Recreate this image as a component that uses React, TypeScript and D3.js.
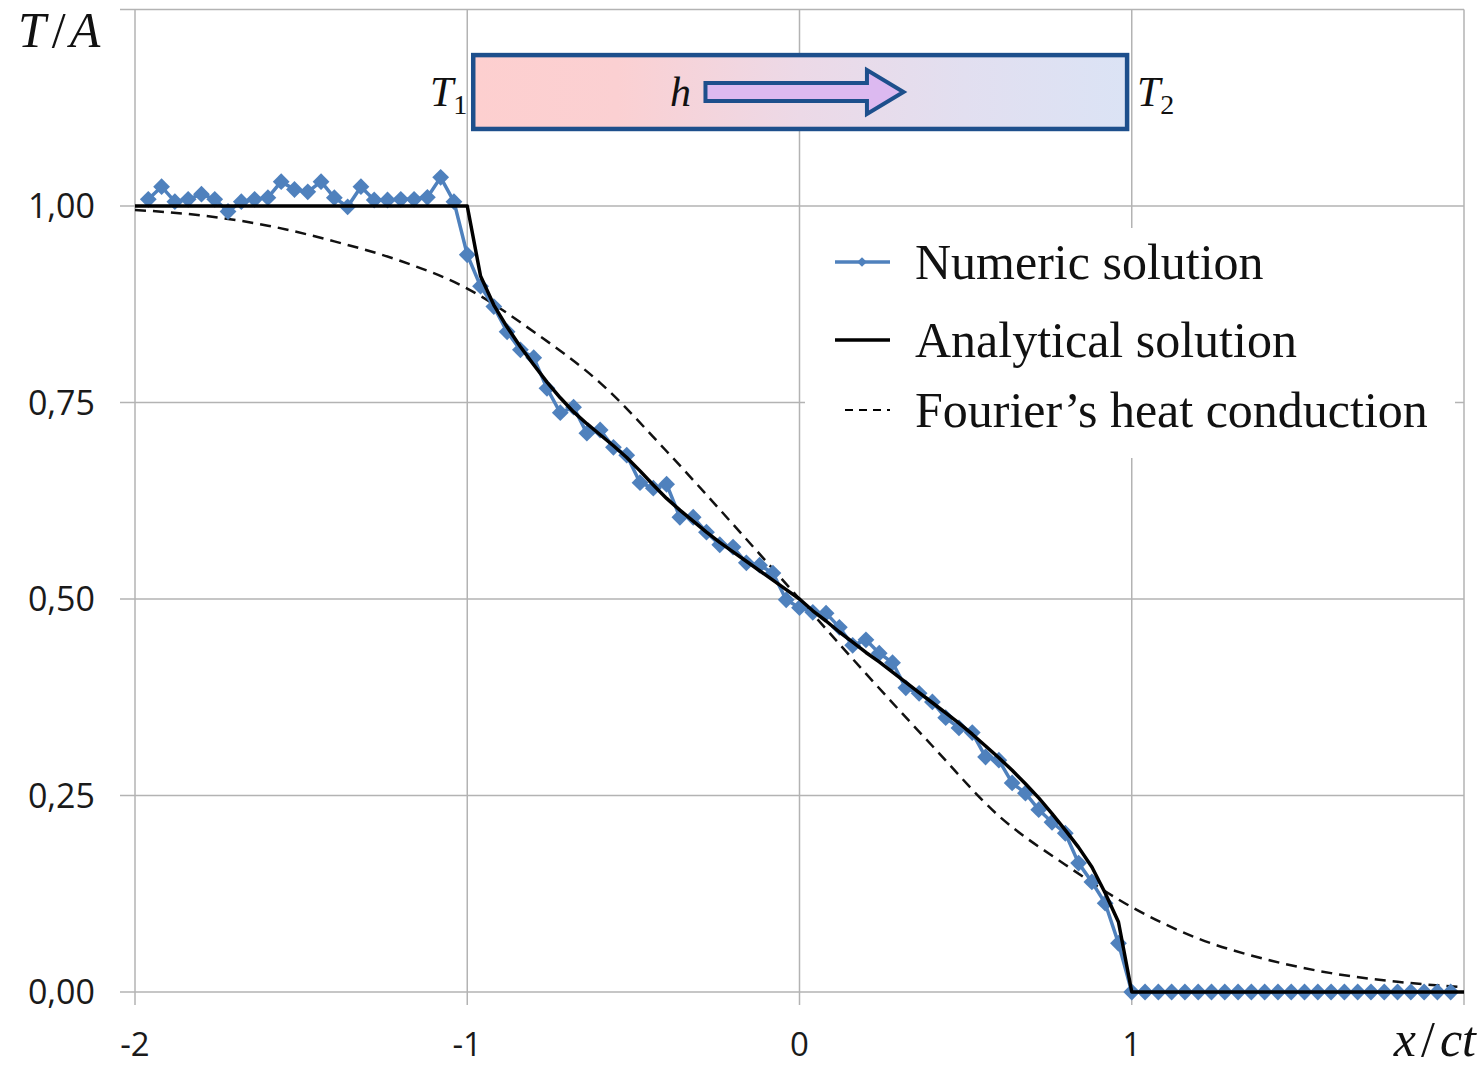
import * as d3 from 'd3';
import { useEffect, useRef } from 'react';

const W = 1484;
const H = 1066;
const plot = { left: 135, right: 1464, top: 9.5, bottom: 992 };

const xTicks = [-2, -1, 0, 1, 2];
const xTickLabels = ['-2', '-1', '0', '1', ''];
const yTicks = [0, 0.25, 0.5, 0.75, 1, 1.25];
const yTickLabels = ['0,00', '0,25', '0,50', '0,75', '1,00', ''];

// numeric solution: sampled every 0.04 from -1.96
const numericStart = -1.96;
const numericStep = 0.04;
const numericValues = [
    1.0085, 1.0246, 1.0055, 1.0085, 1.015, 1.0085, 0.993, 1.0055, 1.0085, 1.0106,
    1.031, 1.021, 1.018, 1.031, 1.0106, 0.999, 1.0246, 1.0076, 1.0076, 1.0085,
    1.0085, 1.011, 1.0365, 1.0055,
    0.938, 0.898, 0.872, 0.84, 0.817, 0.807, 0.768, 0.737, 0.744, 0.711,
    0.715, 0.693, 0.683, 0.648, 0.641, 0.646, 0.604, 0.604, 0.585, 0.569,
    0.566, 0.546, 0.543, 0.533, 0.499, 0.489, 0.483,
    0.482, 0.464, 0.441, 0.448, 0.431, 0.419, 0.387, 0.38, 0.369, 0.349,
    0.336, 0.33, 0.299, 0.295, 0.266, 0.253, 0.232, 0.216, 0.202, 0.164,
    0.14, 0.113, 0.062, 0.0,
    0, 0, 0, 0, 0, 0, 0, 0, 0, 0, 0, 0, 0, 0, 0, 0, 0, 0, 0, 0, 0, 0, 0, 0,
];

const analyticalX = [
    -2, -1, -0.96, -0.92, -0.88, -0.84, -0.8, -0.76, -0.72, -0.68, -0.64, -0.6,
    -0.56, -0.52, -0.48, -0.44, -0.4, -0.36, -0.32, -0.28, -0.24, -0.2, -0.16,
    -0.12, -0.08, -0.04, 0, 0.04, 0.08, 0.12, 0.16, 0.2, 0.24, 0.28, 0.32, 0.36,
    0.4, 0.44, 0.48, 0.52, 0.56, 0.6, 0.64, 0.68, 0.72, 0.76, 0.8, 0.84, 0.88,
    0.92, 0.96, 1, 2,
];
const analyticalValues = [
    1, 1, 0.911, 0.874, 0.846, 0.821, 0.798, 0.776, 0.756, 0.738, 0.723, 0.709,
    0.695, 0.68, 0.663, 0.645, 0.628, 0.613, 0.599, 0.585, 0.572, 0.56, 0.548,
    0.536, 0.524, 0.512, 0.5, 0.485, 0.472, 0.458, 0.445, 0.432, 0.42, 0.407,
    0.394, 0.381, 0.368, 0.355, 0.342, 0.328, 0.313, 0.298, 0.282, 0.265, 0.247,
    0.227, 0.206, 0.184, 0.159, 0.126, 0.089, 0, 0,
];

const fourierX = [
    -2, -1.8, -1.6, -1.4, -1.2, -1, -0.8, -0.6, -0.4, -0.2, 0,
    0.2, 0.4, 0.6, 0.8, 1, 1.2, 1.4, 1.6, 1.8, 2,
];
const fourierValues = [
    0.995, 0.988, 0.975, 0.955, 0.93, 0.895, 0.84, 0.775, 0.688, 0.595, 0.5,
    0.405, 0.313, 0.224, 0.162, 0.108, 0.068, 0.042, 0.024, 0.013, 0.006,
];

const legendItems = ['Numeric solution', 'Analytical solution', 'Fourier\u2019s heat conduction'];

const gridColor = '#b3b3b3';
const blue = '#4f81bd';
const navy = '#1d4f8c';
const serif = '"Liberation Serif", "Times New Roman", serif';
const sans = '"Open Sans", "Liberation Sans", sans-serif';

export default function App() {
    const ref = useRef(null);

    useEffect(() => {
        const el = ref.current;
        if (!el || el.hasChildNodes()) return;

        const svg = d3.select(el).append('svg').attr('width', W).attr('height', H);

        const x = d3.scaleLinear().domain([-2, 2]).range([plot.left, plot.right]);
        const y = d3.scaleLinear().domain([0, 1.25]).range([plot.bottom, plot.top]);

        // gridlines + ticks
        const grid = svg.append('g').attr('stroke', gridColor).attr('stroke-width', 1.5);
        yTicks.forEach((t) => {
            grid.append('line')
                .attr('x1', plot.left - 15).attr('x2', plot.right)
                .attr('y1', y(t)).attr('y2', y(t));
        });
        xTicks.forEach((t) => {
            grid.append('line')
                .attr('x1', x(t)).attr('x2', x(t))
                .attr('y1', plot.top).attr('y2', plot.bottom + 13);
        });

        // tick labels
        yTicks.forEach((t, i) => {
            svg.append('text')
                .attr('x', 95).attr('y', y(t))
                .attr('dy', '0.36em')
                .attr('text-anchor', 'end')
                .style('font-family', sans).style('font-size', '34px')
                .attr('fill', '#1a1a1a')
                .text(yTickLabels[i]);
        });
        xTicks.forEach((t, i) => {
            svg.append('text')
                .attr('x', x(t)).attr('y', 1056)
                .attr('text-anchor', 'middle')
                .style('font-family', sans).style('font-size', '33px')
                .attr('fill', '#1a1a1a')
                .text(xTickLabels[i]);
        });

        // axis titles (math style: italic letters, upright slash)
        const mathLabel = (tx, ty, parts, anchor) => {
            const t = svg.append('text')
                .attr('x', tx).attr('y', ty)
                .attr('text-anchor', anchor)
                .style('font-family', serif).style('font-size', '50px')
                .attr('fill', '#111');
            parts.forEach(([s, italic, dx]) => {
                t.append('tspan').attr('dx', dx).style('font-style', italic ? 'italic' : 'normal').text(s);
            });
        };
        mathLabel(18, 47, [['T', true, 0], ['/', false, 6], ['A', true, 4]], 'start');
        mathLabel(1476, 1056, [['x', true, 0], ['/', false, 5], ['ct', true, 5]], 'end');

        // legend box
        svg.append('rect')
            .attr('x', 805).attr('y', 228).attr('width', 650).attr('height', 230)
            .attr('fill', '#fff');
        const legendY = [262, 340, 410];
        const lg = svg.append('g');
        lg.append('line').attr('x1', 835).attr('x2', 890).attr('y1', legendY[0]).attr('y2', legendY[0])
            .attr('stroke', blue).attr('stroke-width', 3.5);
        lg.append('path')
            .attr('d', d3.symbol(d3.symbolDiamond2, 60)())
            .attr('transform', `translate(862,${legendY[0]})`)
            .attr('fill', blue);
        lg.append('line').attr('x1', 835).attr('x2', 890).attr('y1', legendY[1]).attr('y2', legendY[1])
            .attr('stroke', '#000').attr('stroke-width', 3.5);
        lg.append('line').attr('x1', 845).attr('x2', 890).attr('y1', legendY[2]).attr('y2', legendY[2])
            .attr('stroke', '#000').attr('stroke-width', 1.8).attr('stroke-dasharray', '8,6');
        legendItems.forEach((label, i) => {
            lg.append('text')
                .attr('x', 915).attr('y', legendY[i])
                .attr('dy', '0.33em')
                .style('font-family', serif).style('font-size', '50px')
                .attr('fill', '#111')
                .text(label);
        });

        // Fourier dashed curve
        const fourierLine = d3.line()
            .x((d) => x(d[0]))
            .y((d) => y(d[1]))
            .curve(d3.curveMonotoneX);
        svg.append('path')
            .datum(fourierX.map((v, i) => [v, fourierValues[i]]))
            .attr('fill', 'none')
            .attr('stroke', '#111')
            .attr('stroke-width', 2.5)
            .attr('stroke-dasharray', '11,7')
            .attr('d', fourierLine);

        // numeric solution
        const numeric = numericValues.map((v, i) => [numericStart + i * numericStep, v]);
        const lin = d3.line().x((d) => x(d[0])).y((d) => y(d[1]));
        svg.append('path')
            .datum(numeric)
            .attr('fill', 'none')
            .attr('stroke', blue)
            .attr('stroke-width', 3.5)
            .attr('d', lin);
        svg.append('g')
            .selectAll('path')
            .data(numeric)
            .join('path')
            .attr('d', d3.symbol(d3.symbolDiamond2, 180)())
            .attr('transform', (d) => `translate(${x(d[0])},${y(d[1])})`)
            .attr('fill', blue);

        // analytical solution
        svg.append('path')
            .datum(analyticalX.map((v, i) => [v, analyticalValues[i]]))
            .attr('fill', 'none')
            .attr('stroke', '#000')
            .attr('stroke-width', 3.5)
            .attr('stroke-linejoin', 'round')
            .attr('d', lin);

        // rod diagram
        const defs = svg.append('defs');
        const grad = defs.append('linearGradient').attr('id', 'rodGrad');
        [
            [0, '#fdcfcf'], [0.22, '#fbd0d2'], [0.5, '#ecd9e7'], [0.75, '#e2dff0'], [1, '#dbe3f5'],
        ].forEach(([o, c]) => grad.append('stop').attr('offset', o).attr('stop-color', c));

        const rx0 = x(-0.982), rx1 = x(0.986);
        const ry0 = y(1.192), ry1 = y(1.098);
        svg.append('rect')
            .attr('x', rx0).attr('y', ry0)
            .attr('width', rx1 - rx0).attr('height', ry1 - ry0)
            .attr('fill', 'url(#rodGrad)')
            .attr('stroke', navy).attr('stroke-width', 4.5);

        const ay = (ry0 + ry1) / 2;
        const a0 = x(-0.283), aHead = x(0.203), a1 = x(0.313);
        const arrow = d3.path();
        arrow.moveTo(a0, ay - 9);
        arrow.lineTo(aHead, ay - 9);
        arrow.lineTo(aHead, ay - 22);
        arrow.lineTo(a1, ay);
        arrow.lineTo(aHead, ay + 22);
        arrow.lineTo(aHead, ay + 9);
        arrow.lineTo(a0, ay + 9);
        arrow.closePath();
        svg.append('path')
            .attr('d', arrow.toString())
            .attr('fill', '#dcb9f0')
            .attr('stroke', navy).attr('stroke-width', 4)
            .attr('stroke-linejoin', 'miter');

        svg.append('text')
            .attr('x', 670).attr('y', ay + 14)
            .style('font-family', serif).style('font-style', 'italic').style('font-size', '42px')
            .attr('fill', '#111')
            .text('h');

        const sub = (tx, label, idx) => {
            const t = svg.append('text')
                .attr('x', tx).attr('y', ay + 14)
                .style('font-family', serif).style('font-size', '42px')
                .attr('fill', '#111');
            t.append('tspan').style('font-style', 'italic').text(label);
            t.append('tspan').attr('dy', 8).style('font-size', '28px').text(idx);
        };
        sub(430, 'T', '1');
        sub(1137, 'T', '2');
    }, []);

    return <div ref={ref} style={{ position: 'absolute', left: 0, top: 0, background: '#fff' }}></div>;
}
